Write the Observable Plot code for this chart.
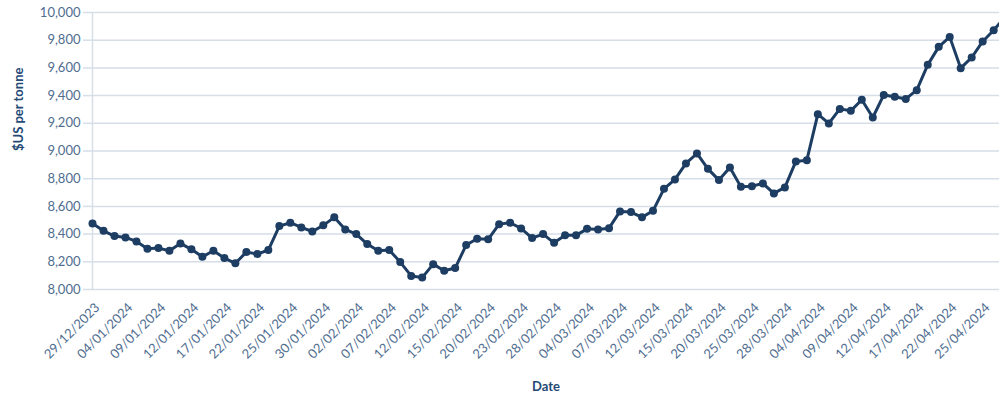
<!DOCTYPE html>
<html><head><meta charset="utf-8">
<script src="https://cdn.jsdelivr.net/npm/d3@7"></script>
<script src="https://cdn.jsdelivr.net/npm/@observablehq/plot@0.6"></script>
<style>body{margin:0;background:#fff;font-family:Lato,sans-serif}</style>
</head><body><div id="chart"></div>
<script>
const dates = [
  "29/12/2023","02/01/2024","03/01/2024","04/01/2024","05/01/2024","08/01/2024","09/01/2024","10/01/2024","11/01/2024","12/01/2024",
  "15/01/2024","16/01/2024","17/01/2024","18/01/2024","19/01/2024","22/01/2024","23/01/2024","24/01/2024","25/01/2024","26/01/2024",
  "29/01/2024","30/01/2024","31/01/2024","01/02/2024","02/02/2024","05/02/2024","06/02/2024","07/02/2024","08/02/2024","09/02/2024",
  "12/02/2024","13/02/2024","14/02/2024","15/02/2024","16/02/2024","19/02/2024","20/02/2024","21/02/2024","22/02/2024","23/02/2024",
  "26/02/2024","27/02/2024","28/02/2024","29/02/2024","01/03/2024","04/03/2024","05/03/2024","06/03/2024","07/03/2024","08/03/2024",
  "11/03/2024","12/03/2024","13/03/2024","14/03/2024","15/03/2024","18/03/2024","19/03/2024","20/03/2024","21/03/2024","22/03/2024",
  "25/03/2024","26/03/2024","27/03/2024","28/03/2024","02/04/2024","03/04/2024","04/04/2024","05/04/2024","08/04/2024","09/04/2024",
  "10/04/2024","11/04/2024","12/04/2024","15/04/2024","16/04/2024","17/04/2024","18/04/2024","19/04/2024","22/04/2024","23/04/2024",
  "24/04/2024","25/04/2024","26/04/2024","29/04/2024"
];
const prices = [
  8477,8424,8386,8376,8347,8294,8299,8280,8333,8290,
  8236,8280,8227,8189,8270,8256,8285,8458,8482,8448,
  8419,8463,8521,8434,8400,8328,8280,8285,8198,8098,
  8086,8183,8135,8155,8321,8366,8362,8472,8482,8441,
  8371,8400,8337,8391,8391,8438,8434,8443,8564,8559,
  8521,8568,8727,8795,8910,8982,8871,8790,8881,8741,
  8746,8766,8694,8737,8925,8934,9266,9199,9304,9290,
  9370,9242,9405,9391,9376,9439,9622,9752,9824,9598,
  9675,9791,9872,9965
];
const yTicks = [8000,8200,8400,8600,8800,9000,9200,9400,9600,9800,10000];
const xTicks = dates.filter((d, i) => i % 3 === 0 && i <= 81);
const yTitle = "$US per tonne";
const xTitle = "Date";

const data = dates.map((d, i) => ({date: d, price: prices[i]}));
const navy = "#1d3d63";
const grid = "#d6dee7";
const tickText = "#4f6d8f";

const chart = Plot.plot({
  width: 999, height: 399,
  marginLeft: 92, marginRight: 0, marginTop: 12, marginBottom: 110,
  style: {fontFamily: "Lato, sans-serif", fontSize: "13px", background: "#fff", overflow: "hidden"},
  x: {type: "point", domain: dates, range: [92, 92 + 83 * 10.99], padding: 0},
  y: {domain: [8000, 10000]},
  marks: [
    Plot.gridY(yTicks, {stroke: grid, strokeOpacity: 1, strokeWidth: 1.5}),
    Plot.ruleX([dates[0]], {stroke: grid, strokeWidth: 1.5}),
    Plot.axisY({ticks: yTicks, tickSize: 9, tickPadding: 3, stroke: grid, strokeWidth: 1.5, fill: tickText, tickFormat: d3.format(","), label: null}),
    Plot.axisX({ticks: xTicks, tickSize: 0, tickPadding: 16, dx: 5, tickRotate: -45, fill: tickText, label: null}),
    Plot.line(data, {x: "date", y: "price", stroke: navy, strokeWidth: 3}),
    Plot.dot(data, {x: "date", y: "price", r: 4, fill: navy}),
    Plot.text([xTitle], {frameAnchor: "bottom", dy: 101, fontWeight: "bold", fill: "#244a75", fontSize: 13}),
    Plot.text([yTitle], {frameAnchor: "left", dx: -74, rotate: -90, fontWeight: "bold", fill: "#244a75", fontSize: 13})
  ]
});
document.getElementById("chart").appendChild(chart);
</script>
</body></html>
